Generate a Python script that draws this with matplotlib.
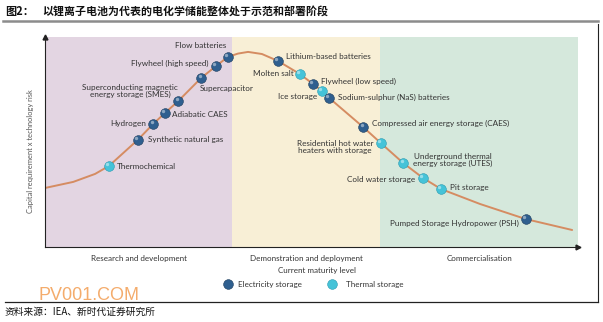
import matplotlib.pyplot as plt
from matplotlib.lines import Line2D
from matplotlib.transforms import ScaledTranslation

plt.rcParams["font.family"] = ["Lato", "DejaVu Sans"]

# maturity (0-100) and capital requirement x risk (0-100) for each technology
techs = [
    "Thermochemical", "Synthetic natural gas", "Hydrogen", "Adiabatic CAES",
    "Superconducting magnetic\nenergy storage (SMES)", "Supercapacitor",
    "Flywheel (high speed)", "Flow batteries", "Lithium-based batteries",
    "Molten salt", "Flywheel (low speed)", "Ice storage",
    "Sodium-sulphur (NaS) batteries", "Compressed air energy storage (CAES)",
    "Residential hot water\nheaters with storage",
    "Underground thermal\nenergy storage (UTES)", "Cold water storage",
    "Pit storage", "Pumped Storage Hydropower (PSH)",
]
maturity = [12.0, 17.4, 20.3, 22.5, 25.0, 29.3, 32.1, 34.3, 43.7, 47.8,
            50.3, 52.0, 53.3, 59.7, 63.0, 67.2, 70.9, 74.3, 90.2]
risk = [38.6, 51.0, 58.6, 63.8, 69.5, 80.5, 86.2, 90.5, 88.6, 82.4,
        77.6, 74.3, 71.0, 57.1, 49.5, 40.0, 32.9, 27.6, 13.3]
kind = ["thermal", "electricity", "electricity", "electricity", "electricity",
        "electricity", "electricity", "electricity", "electricity", "thermal",
        "electricity", "thermal", "electricity", "electricity", "thermal",
        "thermal", "thermal", "thermal", "electricity"]

# the maturity curve itself
curve_x = [0.0, 5.3, 9.4, 12.0, 17.4, 20.3, 22.5, 25.0, 29.3, 32.1, 34.3,
           36.2, 38.1, 40.7, 43.7, 47.8, 50.3, 52.0, 53.3, 59.7, 63.0, 67.2,
           70.9, 74.3, 81.6, 90.2, 98.9]
curve_y = [28.1, 31.0, 34.8, 38.6, 51.0, 58.6, 63.8, 69.5, 80.5, 86.2, 90.5,
           92.1, 92.9, 91.9, 88.6, 82.4, 77.6, 74.3, 71.0, 57.1, 49.5, 40.0,
           32.9, 27.6, 20.5, 13.3, 8.1]

stages = ["Research and development", "Demonstration and deployment",
          "Commercialisation"]
stage_edges = [0, 35.1, 62.9, 100]
stage_colors = ["#e3d5e2", "#f8efd6", "#d5e8dc"]

# label offsets in pixels (dx right, dy up) and horizontal alignment
label_pos = [
    (8, -1, "left"), (10, 0, "left"), (-7, 0, "right"), (7, -1, "left"),
    (-48, 10, "center"), (-1, -11, "left"), (-8, 3, "right"),
    (-2, 11, "right"), (8, 4, "left"), (-6, 0, "right"), (8, 3, "left"),
    (-5, -6, "right"), (9, 0, "left"), (9, 4, "left"), (-46, -4, "center"),
    (50, 3, "center"), (-8, -2, "right"), (9, 2, "left"), (-7, -4, "right"),
]

ELEC = "#2f5f8f"
THERM = "#45c3d8"
CURVE = "#d58c62"
TEXT = "#333333"

fig = plt.figure(figsize=(6.03, 3.22), dpi=100)
fig.patch.set_facecolor("white")
ax = fig.add_axes([45 / 603, 1 - 247 / 322, 533 / 603, 210 / 322])
ax.set_xlim(0, 100)
ax.set_ylim(0, 100)

for i in range(len(stages)):
    ax.axvspan(stage_edges[i], stage_edges[i + 1], color=stage_colors[i], lw=0)
    ax.text((stage_edges[i] + stage_edges[i + 1]) / 2, -4, stages[i],
            ha="center", va="top", fontsize=5.8, color=TEXT)

ax.plot(curve_x, curve_y, color=CURVE, lw=1.4, solid_joinstyle="round",
        solid_capstyle="round", zorder=2)

shine = ax.transData + ScaledTranslation(-1.2 / 72, 1.2 / 72, fig.dpi_scale_trans)


def draw_marker(x, y, color, size=7.0):
    edge = "#1d3d5c" if color == ELEC else "#2a9ab0"
    ax.plot(x, y, "o", ms=size, color=color, mec=edge, mew=0.4, zorder=3)
    ax.plot(x, y, "o", ms=size * 0.35, color="white", alpha=0.45, mew=0,
            zorder=4, transform=shine)


for t, x, y, k, (dx, dy, ha) in zip(techs, maturity, risk, kind, label_pos):
    draw_marker(x, y, ELEC if k == "electricity" else THERM)
    ax.annotate(t, (x, y), xytext=(dx * 0.72, dy * 0.72), textcoords="offset points",
                ha=ha, va="center", fontsize=5.9, color=TEXT, linespacing=1.0,
                multialignment="center", zorder=5)

for s in ["top", "right"]:
    ax.spines[s].set_visible(False)
for s in ["left", "bottom"]:
    ax.spines[s].set_color("#222222")
    ax.spines[s].set_linewidth(0.8)
ax.plot(1, 0, ">", transform=ax.transAxes, color="#222222", ms=3.5, clip_on=False)
ax.plot(0, 1, "^", transform=ax.transAxes, color="#222222", ms=3.5, clip_on=False)
ax.set_xticks([])
ax.set_yticks([])
ax.set_ylabel("Capital requirement x technology risk", fontsize=5.4, color="#555555")
ax.yaxis.set_label_coords(-11 / 533, 0.455)

fig.text(317 / 603, 1 - 270 / 322, "Current maturity level", ha="center", va="center",
         fontsize=5.8, color=TEXT)

# legend row
for mx, tx, col, lab in [(228, 238, ELEC, "Electricity storage"),
                         (332, 346, THERM, "Thermal storage")]:
    fig.add_artist(Line2D([mx / 603], [1 - 284 / 322], marker="o", ms=7, color=col,
                          mec="#1d3d5c" if col == ELEC else "#2a9ab0", mew=0.4,
                          transform=fig.transFigure))
    fig.text(tx / 603, 1 - 284 / 322, lab, ha="left", va="center", fontsize=5.8, color=TEXT)

# title and frame
cjk = ["Noto Sans CJK SC", "DejaVu Sans"]
fig.text(5 / 603, 1 - 11 / 322, "图2：", ha="left", va="center", fontsize=8,
         fontweight="bold", family=cjk, color="#111111")
fig.text(42 / 603, 1 - 11 / 322, "以锂离子电池为代表的电化学储能整体处于示范和部署阶段",
         ha="left", va="center", fontsize=7.9, fontweight="bold", family=cjk, color="#111111")
fig.add_artist(Line2D([3 / 603, 598 / 603], [1 - 21 / 322] * 2, color="#8c8c8c", lw=1.8,
                      transform=fig.transFigure))
fig.add_artist(Line2D([598 / 603] * 2, [1 - 24 / 322, 1 - 302 / 322], color="#222222",
                      lw=0.8, transform=fig.transFigure))
fig.add_artist(Line2D([5 / 603, 598 / 603], [1 - 302 / 322] * 2, color="#222222", lw=0.9,
                      transform=fig.transFigure))

fig.text(38 / 603, 1 - 296 / 322, "PV001.COM", ha="left", va="center", fontsize=13,
         family="Liberation Sans", color="#f3a35c", alpha=0.9)
fig.text(5 / 603, 1 - 312 / 322, "资料来源：IEA、新时代证券研究所", ha="left", va="center",
         fontsize=7, family=cjk, color="#111111")

fig.savefig("out.png", dpi=100)
